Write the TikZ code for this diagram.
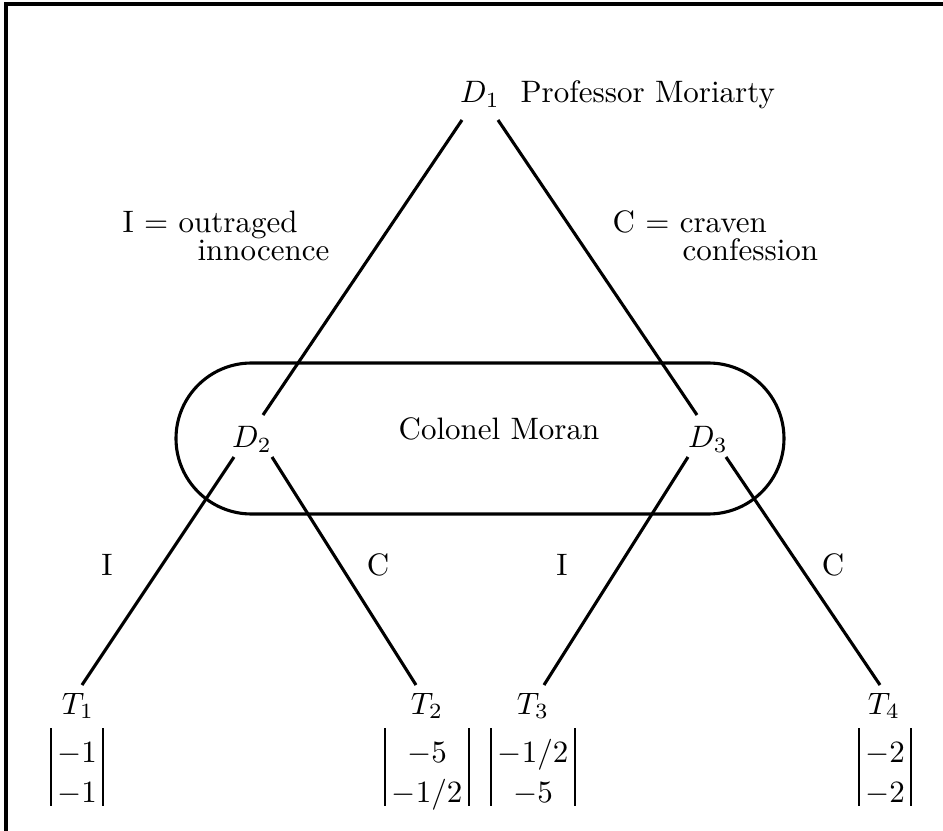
\documentclass[tikz,border=0pt]{standalone}
\usetikzlibrary{calc,shapes.misc}
\begin{document}
\begin{tikzpicture}[x=0.3226pt,y=-0.3226pt,
  edge/.style={line width=1pt},
  lbl/.style={inner sep=0pt},
  bar/.style={line width=0.6pt},
  vnarrow/.style={inner sep=0pt, minimum height=24.52pt, minimum width=16.13pt},
  vwide/.style={inner sep=0pt, minimum height=24.52pt, minimum width=26.78pt},
  group/.style={draw, line width=1pt, rounded rectangle, inner sep=0pt,
    minimum width=196.14pt, minimum height=48.71pt}]
\useasboundingbox (0,0) rectangle (943,831);
% frame (top and left edges)
\draw[line width=1.1pt] (6,831) -- (6,4) -- (943,4);

% decision nodes
\node[lbl,anchor=base] (D1) at (480,103) {$D_1$};
\node[lbl,anchor=base west] (PM) at (520,103) {Professor Moriarty};
\node[lbl,anchor=base] (D2) at (252,448) {$D_2$};
\node[lbl,anchor=base] (D3) at (708,448) {$D_3$};
\node[group] (G) at (480,438.5) {};
\node[lbl,anchor=base west] (CM) at (398,439) {Colonel Moran};

% choice labels
\node[lbl,anchor=base west] (Ia) at (122,232) {I $=$ outraged};
\node[lbl,anchor=base west] (Ib) at (197,261) {innocence};
\node[lbl,anchor=base west] (Ca) at (612,232) {C $=$ craven};
\node[lbl,anchor=base west] (Cb) at (682,261) {confession};

\node[lbl,anchor=base] (e1) at (107,575) {I};
\node[lbl,anchor=base] (e2) at (378,575) {C};
\node[lbl,anchor=base] (e3) at (562,575) {I};
\node[lbl,anchor=base] (e4) at (833,575) {C};

% terminal nodes
\node[lbl,anchor=base] (T1) at (78,714) {$T_1$};
\node[lbl,anchor=base] (T2) at (427,714) {$T_2$};
\node[lbl,anchor=base] (T3) at (533,714) {$T_3$};
\node[lbl,anchor=base] (T4) at (884,714) {$T_4$};

% payoff vectors
\node[lbl,anchor=base] (p1a) at (77,763) {$-1$};
\node[lbl,anchor=base] (p1b) at (77,803) {$-1$};
\node[lbl,anchor=base] (p2a) at (427,763) {$-5$};
\node[lbl,anchor=base] (p2b) at (427,803) {$-1/2$};
\node[lbl,anchor=base] (p3a) at (533,763) {$-1/2$};
\node[lbl,anchor=base] (p3b) at (533,803) {$-5$};
\node[lbl,anchor=base] (p4a) at (885,763) {$-2$};
\node[lbl,anchor=base] (p4b) at (885,803) {$-2$};

\node[vnarrow] (V1) at (77,767) {};
\node[vwide] (V2) at (427,767) {};
\node[vwide] (V3) at (533,767) {};
\node[vnarrow] (V4) at (885,767) {};
\foreach \v in {V1,V2,V3,V4}{
  \draw[bar] (\v.north west) -- (\v.south west);
  \draw[bar] (\v.north east) -- (\v.south east);
}

% tree edges
\draw[edge] ($(D1.base)+(-18,17)$) -- ($(D2.base)+(11,-33)$);
\draw[edge] ($(D1.base)+(18,17)$) -- ($(D3.base)+(-11,-33)$);
\draw[edge] ($(D2.base)+(-18,9)$) -- ($(T1.base)+(4,-29)$);
\draw[edge] ($(D2.base)+(20,9)$) -- ($(T2.base)+(-11,-29)$);
\draw[edge] ($(D3.base)+(-20,9)$) -- ($(T3.base)+(11,-29)$);
\draw[edge] ($(D3.base)+(18,9)$) -- ($(T4.base)+(-4,-29)$);
\end{tikzpicture}
\end{document}
